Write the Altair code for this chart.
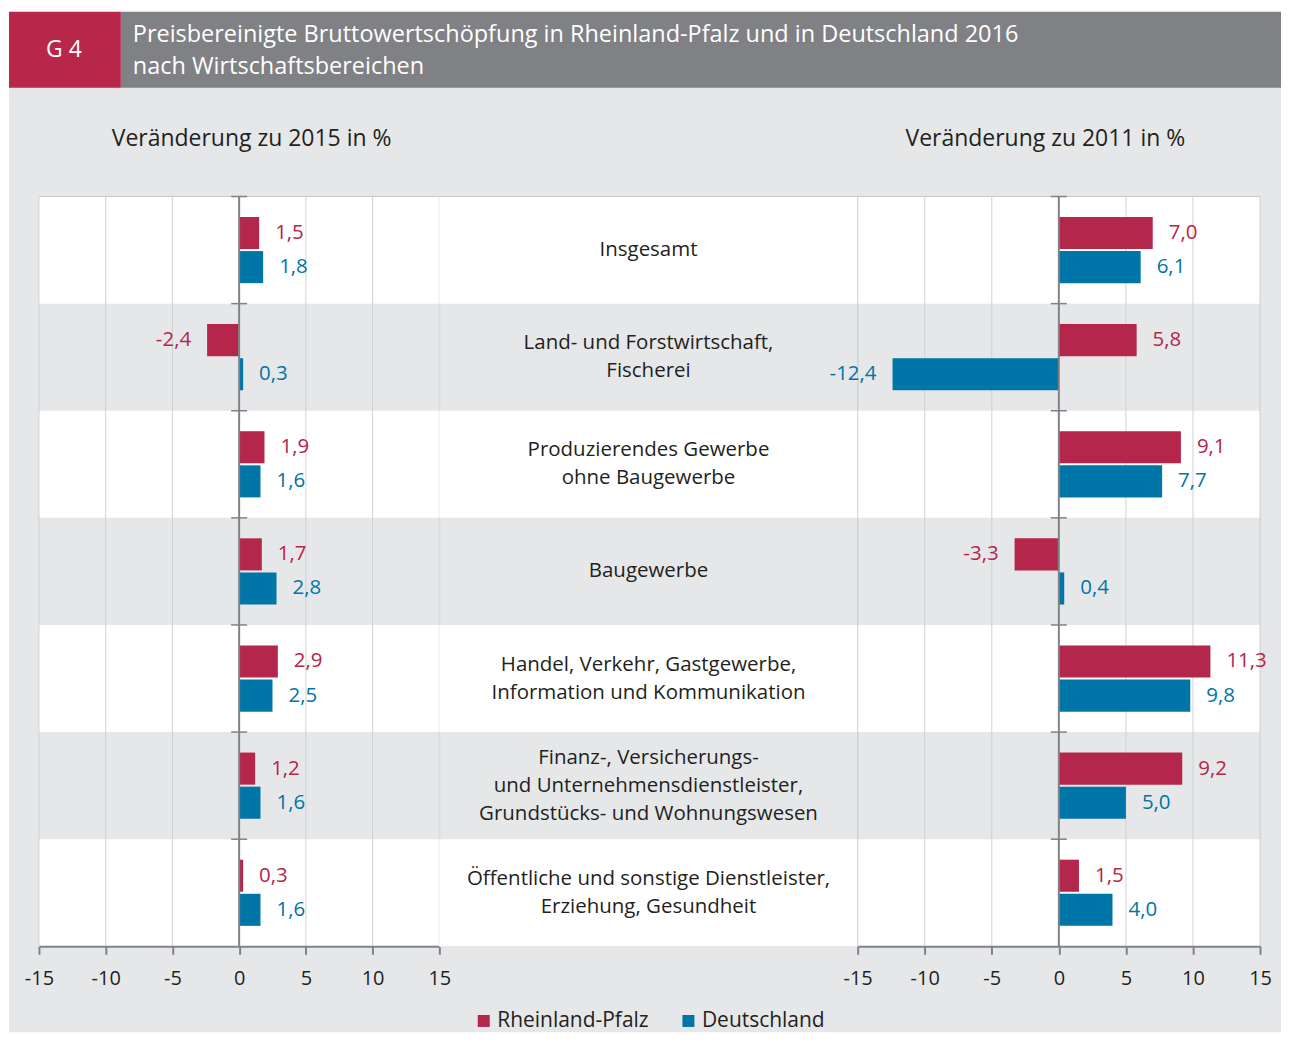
import altair as alt
import pandas as pd

# ---------------- data ----------------
categories = [
    "Insgesamt",
    "Land- und Forstwirtschaft,\nFischerei",
    "Produzierendes Gewerbe\nohne Baugewerbe",
    "Baugewerbe",
    "Handel, Verkehr, Gastgewerbe,\nInformation und Kommunikation",
    "Finanz-, Versicherungs-\nund Unternehmensdienstleister,\nGrundstücks- und Wohnungswesen",
    "Öffentliche und sonstige Dienstleister,\nErziehung, Gesundheit",
]
regions = ["Rheinland-Pfalz", "Deutschland"]
rp_2015 = [1.5, -2.4, 1.9, 1.7, 2.9, 1.2, 0.3]
de_2015 = [1.8, 0.3, 1.6, 2.8, 2.5, 1.6, 1.6]
rp_2011 = [7.0, 5.8, 9.1, -3.3, 11.3, 9.2, 1.5]
de_2011 = [6.1, -12.4, 7.7, 0.4, 9.8, 5.0, 4.0]
tick_values = [-15, -10, -5, 0, 5, 10, 15]

header_code = "G 4"
header_title = ("Preisbereinigte Bruttowertschöpfung in Rheinland-Pfalz und in Deutschland 2016\n"
                "nach Wirtschaftsbereichen")
title_left = "Veränderung zu 2015 in %"
title_right = "Veränderung zu 2011 in %"

# ---------------- styles ----------------
RED = "#b5264b"
BLUE = "#0075a7"
TXT = "#231f20"
BG = "#e6e7e9"
GRID = "#d0d1d3"
AXIS = "#808285"
HEAD = "#808184"
FONT = "Open Sans"

H = 751
W_LEFT, W_MID, W_RIGHT = 401, 419, 403
RIGHT_EDGE = 1244   # page x 1282, relative to left panel origin
LINE_H = 28


def long_frame(rp, de):
    rows = []
    for c, a, b in zip(categories, rp, de):
        rows.append({"cat": c, "region": regions[0], "value": a})
        rows.append({"cat": c, "region": regions[1], "value": b})
    df = pd.DataFrame(rows)
    df["label"] = df["value"].map(lambda v: f"{v:.1f}".replace(".", ","))
    return df


df_2015 = long_frame(rp_2015, de_2015)
df_2011 = long_frame(rp_2011, de_2011)
rows_df = pd.DataFrame({"cat": categories, "idx": list(range(len(categories)))})
grid_df = pd.DataFrame({"value": [t for t in tick_values if t != 0]})
zero_df = pd.DataFrame({"value": [0]})
one = pd.DataFrame({"k": [0]})

yscale = alt.Scale(domain=categories, paddingInner=0, paddingOuter=0)


def Y(**kw):
    return alt.Y("cat:N", scale=yscale, axis=None, sort=categories, **kw)


xscale = alt.Scale(domain=[-15, 15], nice=False, zero=False)
xaxis = alt.Axis(
    values=tick_values, title=None, grid=False, zindex=1,
    domainColor=AXIS, domainWidth=2, tickColor=AXIS, tickWidth=2, tickSize=8,
    labelFontSize=20, labelColor=TXT, labelFont=FONT, labelPadding=14,
    labelExpr="'' + datum.value", labelFlush=False, labelOverlap=False,
)


def X():
    return alt.X("value:Q", scale=xscale, axis=xaxis, title=None)


cscale = alt.Scale(domain=regions, range=[RED, BLUE])
legend = alt.Legend(
    orient="none", legendX=435, legendY=815, direction="horizontal", title=None,
    symbolType="square", symbolSize=144, symbolStrokeWidth=0, symbolOpacity=1,
    labelFontSize=21, labelColor=TXT, labelFont=FONT, labelOffset=3,
    columnPadding=29, padding=0, zindex=1,
)
yoff = alt.YOffset("region:N", sort=regions,
                   scale=alt.Scale(domain=regions, paddingInner=0.06, paddingOuter=0.6))
color = alt.Color("region:N", scale=cscale, legend=legend)


def bar_panel(df, W, title_x, title_text, extra=()):
    white = (alt.Chart(rows_df).transform_filter("datum.idx % 2 == 0")
             .mark_rect(color="white")
             .encode(y=Y(), x=alt.value(0), x2=alt.value(W)))
    border = (alt.Chart(one).mark_rule(color="#c8c9cb", strokeWidth=1)
              .encode(x=alt.value(0), x2=alt.value(W), y=alt.value(0)))
    grid = alt.Chart(grid_df).mark_rule(color=GRID, strokeWidth=1).encode(x=X())
    bars = alt.Chart(df).mark_bar().encode(x=X(), y=Y(), yOffset=yoff, color=color)
    zero = alt.Chart(zero_df).mark_rule(color=AXIS, strokeWidth=2).encode(x=X())
    rticks = (alt.Chart(rows_df).transform_calculate(value="0")
              .mark_rule(color=AXIS, strokeWidth=1.5, xOffset=-8, x2Offset=8)
              .encode(x=X(), x2=alt.X2("value:Q"), y=Y(bandPosition=0)))
    pos = (alt.Chart(df).transform_filter("datum.value >= 0")
           .mark_text(align="left", baseline="middle", dx=16, fontSize=20.5, font=FONT)
           .encode(x=X(), y=Y(), yOffset=yoff, text="label:N", color=color))
    neg = (alt.Chart(df).transform_filter("datum.value < 0")
           .mark_text(align="right", baseline="middle", dx=-16, fontSize=20.5, font=FONT)
           .encode(x=X(), y=Y(), yOffset=yoff, text="label:N", color=color))
    ttl = (alt.Chart(one).mark_text(fontSize=23, color=TXT, font=FONT,
                                    align="center", baseline="middle")
           .encode(x=alt.value(title_x), y=alt.value(-58), text=alt.value(title_text)))
    layers = list(extra) + [white, border, grid, bars, zero, rticks, pos, neg, ttl]
    return alt.layer(*layers).properties(width=W, height=H)


# page decoration (drawn from the left panel, outside its view)
bg = alt.Chart(one).mark_rect(color=BG).encode(
    x=alt.value(-30), x2=alt.value(RIGHT_EDGE), y=alt.value(-185), y2=alt.value(837))
strip = alt.Chart(one).mark_rect(color="white").encode(
    x=alt.value(-30), x2=alt.value(RIGHT_EDGE), y=alt.value(-187), y2=alt.value(-185))
gbar = alt.Chart(one).mark_rect(color=HEAD).encode(
    x=alt.value(82), x2=alt.value(RIGHT_EDGE), y=alt.value(-185), y2=alt.value(-109))
rbox = alt.Chart(one).mark_rect(color="#b8264a").encode(
    x=alt.value(-30), x2=alt.value(82), y=alt.value(-185), y2=alt.value(-109))
g4 = alt.Chart(one).mark_text(color="white", fontSize=23, font=FONT, align="center",
                              baseline="middle").encode(
    x=alt.value(25), y=alt.value(-147), text=alt.value(header_code))
htitle = alt.Chart(one).mark_text(color="white", fontSize=23.5, font=FONT, align="left",
                                  baseline="middle", lineBreak="\n", lineHeight=32).encode(
    x=alt.value(94), y=alt.value(-162), text=alt.value(header_title))

left = bar_panel(df_2015, W_LEFT, 213, title_left, extra=[bg, strip, gbar, rbox, g4, htitle])
right = bar_panel(df_2011, W_RIGHT, 188, title_right)

mid_white = (alt.Chart(rows_df).transform_filter("datum.idx % 2 == 0")
             .mark_rect(color="white")
             .encode(y=Y(), x=alt.value(0), x2=alt.value(W_MID)))
mid_border = (alt.Chart(one).mark_rule(color="#c8c9cb", strokeWidth=1)
              .encode(x=alt.value(0), x2=alt.value(W_MID), y=alt.value(0)))


def mid_text(n_lines):
    return (alt.Chart(rows_df)
            .transform_calculate(n="length(split(datum.cat, '\\n'))")
            .transform_filter(f"datum.n == {n_lines}")
            .mark_text(align="center", baseline="middle", fontSize=20.5, font=FONT,
                       color=TXT, lineBreak="\n", lineHeight=LINE_H,
                       dy=-(n_lines - 1) * LINE_H / 2)
            .encode(y=Y(), x=alt.value(W_MID / 2), text="cat:N"))


middle = alt.layer(mid_white, mid_border, mid_text(1), mid_text(2), mid_text(3)).properties(
    width=W_MID, height=H)

chart = (
    alt.hconcat(left, middle, right, spacing=0, bounds="flush")
    .properties(padding=0, background="white")
    .configure_view(stroke=None)
    .configure(font=FONT)
)

chart.save("out.html", embed_options={"renderer": "svg", "actions": False})
